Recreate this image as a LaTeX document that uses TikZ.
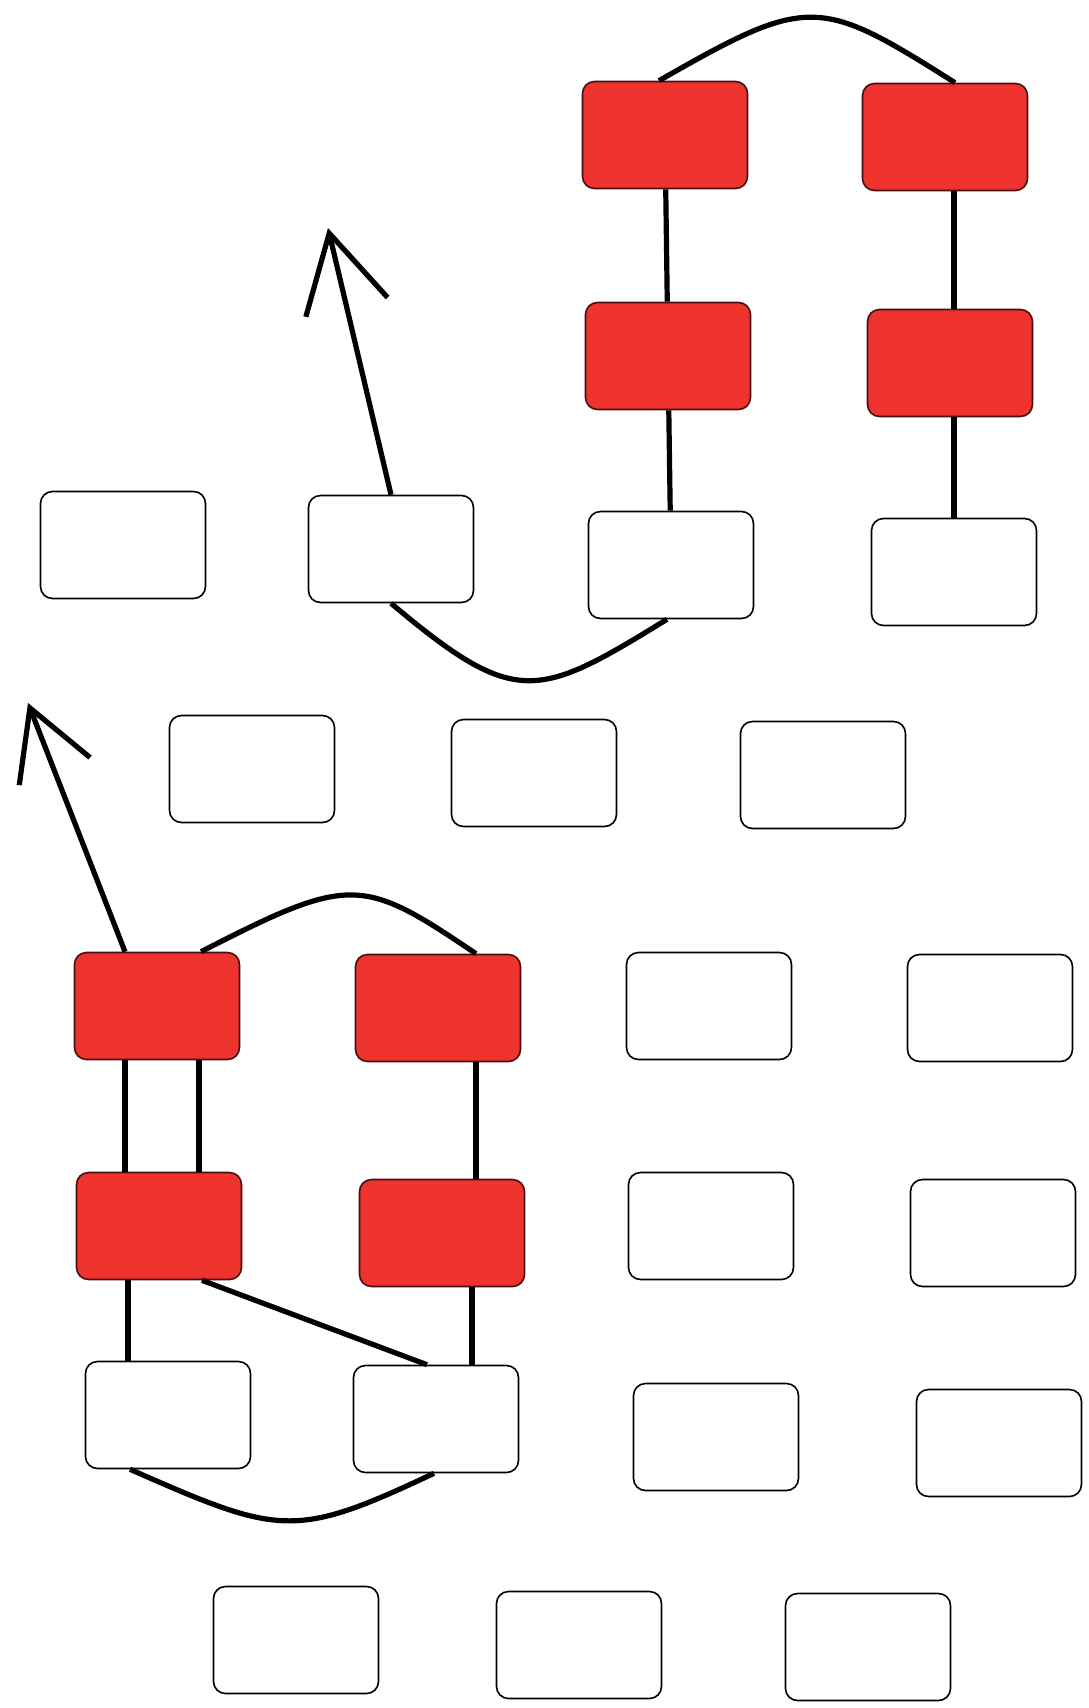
\documentclass[tikz,border=0pt]{standalone}
\usetikzlibrary{arrows.meta}
\definecolor{boxred}{RGB}{238,50,46}
\begin{document}
\begin{tikzpicture}[x=0.5pt, y=-0.5pt,
    cell/.style={draw, line width=0.8pt, rounded corners=6pt, minimum width=82.5pt, minimum height=53.5pt, inner sep=0pt},
    hotcell/.style={cell, fill=boxred, draw=black!70!boxred},
    wire/.style={line width=2.6pt},
    >={Straight Barb[length=38pt,width=42pt]}]
    \useasboundingbox (0,0) rectangle (1088,1708);

    % red boxes
    \foreach \n/\x/\y in {r1/665/135, r2/945/137, r3/668/356, r4/950/363,
                          r5/157/1006, r6/438/1008, r7/159/1226, r8/442/1233}
      \node[hotcell] (\n) at (\x,\y) {};

    % plain boxes
    \foreach \n/\x/\y in {w1/123/545, w2/391/549, w3/671/565, w4/954/572,
                          w5/252/769, w6/534/773, w7/823/775,
                          w8/709/1006, w9/990/1008, w10/711/1226, w11/993/1233,
                          w12/168/1415, w13/436/1419, w14/716/1437, w15/999/1443,
                          w16/296/1640, w17/579/1645, w18/868/1647}
      \node[cell] (\n) at (\x,\y) {};

    \coordinate (tip1) at (328,228);
    \coordinate (tip2) at (28,703);

    % upper group
    \draw[wire] ([xshift=-3pt]r1.north) .. controls +(150,-86) and +(-136,-86) .. ([xshift=5pt]r2.north);
    \draw[wire] (r1) -- (r3);
    \draw[wire] (r3) -- (w3);
    \draw[wire] (r2.south -| w4) -- (r4.north -| w4);
    \draw[wire] (r4.south -| w4) -- (w4);
    \draw[wire] ([xshift=-2pt]w3.south) .. controls +(-130,80) and +(125,105) .. (w2.south);
    \draw[wire,->] (w2.north) -- (tip1);

    % lower group
    \draw[wire,-{Straight Barb[length=34pt,width=38pt]}] ([xshift=-16pt]r5.north) -- (tip2);
    \draw[wire] ([xshift=22pt]r5.north) .. controls +(150,-77) and +(-114,-77) .. ([xshift=19pt]r6.north);
    \draw[wire] ([xshift=-16pt]r5.south) -- ([xshift=-17pt]r7.north);
    \draw[wire] ([xshift=21pt]r5.south) -- ([xshift=20pt]r7.north);
    \draw[wire] ([xshift=19pt]r6.south) -- ([xshift=17pt]r8.north);
    \draw[wire] ([xshift=-15.5pt]r7.south) -- ([xshift=-20pt]w12.north);
    \draw[wire] ([xshift=21.5pt]r7.south) -- ([xshift=-4.5pt]w13.north);
    \draw[wire] ([xshift=15pt]r8.south) -- ([xshift=18pt]w13.north);
    \draw[wire] ([xshift=-19pt]w12.south) .. controls +(150,66) and +(-140,66) .. ([xshift=-1pt]w13.south);
\end{tikzpicture}
\end{document}
